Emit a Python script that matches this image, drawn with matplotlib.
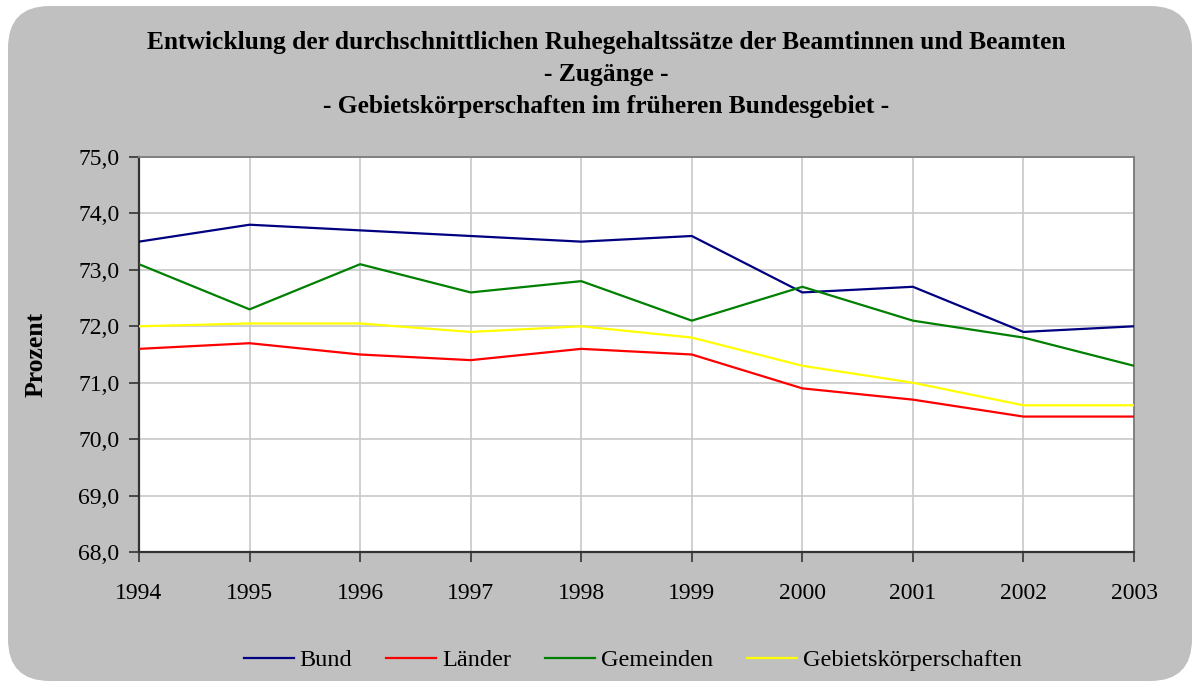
import matplotlib
matplotlib.use("Agg")
import matplotlib.pyplot as plt
from matplotlib.patches import FancyBboxPatch
from matplotlib.ticker import FuncFormatter, MultipleLocator

years = [1994, 1995, 1996, 1997, 1998, 1999, 2000, 2001, 2002, 2003]
bund = [73.5, 73.8, 73.7, 73.6, 73.5, 73.6, 72.6, 72.7, 71.9, 72.0]
laender = [71.6, 71.7, 71.5, 71.4, 71.6, 71.5, 70.9, 70.7, 70.4, 70.4]
gemeinden = [73.1, 72.3, 73.1, 72.6, 72.8, 72.1, 72.7, 72.1, 71.8, 71.3]
gebiet = [72.0, 72.05, 72.05, 71.9, 72.0, 71.8, 71.3, 71.0, 70.6, 70.6]
series_names = ["Bund", "Länder", "Gemeinden", "Gebietskörperschaften"]
series_colors = ["#000080", "#FF0000", "#008000", "#FFFF00"]
title_lines = ["Entwicklung der durchschnittlichen Ruhegehaltssätze der Beamtinnen und Beamten",
               "- Zugänge -",
               "- Gebietskörperschaften im früheren Bundesgebiet -"]

plt.rcParams['font.family'] = ['Liberation Serif', 'DejaVu Serif']

W, H = 1196, 681
fig = plt.figure(figsize=(W / 100, H / 100), dpi=100)
fig.patch.set_facecolor("white")

box = FancyBboxPatch((8 / W, 0 / H), (1184) / W, (675) / H,
                     boxstyle="round,pad=0,rounding_size=0.035",
                     transform=fig.transFigure, facecolor="#C0C0C0",
                     edgecolor="none", zorder=-10,
                     mutation_aspect=W / H)
fig.patches.append(box)

ax = fig.add_axes([139 / W, 1 - 552 / H, (1134 - 139) / W, (552 - 157) / H])
ax.set_facecolor("white")
ax.set_zorder(1)

for vals, name, col in zip([bund, laender, gemeinden, gebiet], series_names, series_colors):
    ax.plot(years, vals, color=col, lw=1.6, label=name, zorder=3)

ax.set_xlim(1994, 2003)
ax.set_ylim(68, 75)
ax.xaxis.set_major_locator(MultipleLocator(1))
ax.yaxis.set_major_locator(MultipleLocator(1))
ax.yaxis.set_major_formatter(FuncFormatter(lambda v, p: f"{v:.1f}".replace(".", ",")))
ax.xaxis.set_major_formatter(FuncFormatter(lambda v, p: f"{int(round(v))}"))
ax.grid(True, color="#C8C8C8", lw=1.2, zorder=1)
ax.tick_params(axis="both", direction="out", length=7, width=1.2, color="#333333",
               labelsize=17)
ax.tick_params(axis="y", pad=7)
ax.tick_params(axis="x", pad=15)
for s in ["left", "bottom"]:
    ax.spines[s].set_color("#333333")
    ax.spines[s].set_linewidth(1.6)
for s in ["top", "right"]:
    ax.spines[s].set_color("#808080")
    ax.spines[s].set_linewidth(1.4)

fig.text(36.5 / W, 1 - 354 / H, "Prozent", rotation=90, ha="center", va="center",
         fontsize=18.5, fontweight="bold")

ys = [43, 75, 107]
for t, y in zip(title_lines, ys):
    fig.text(606 / W, 1 - y / H, t, ha="center", va="center", fontsize=18.4,
             fontweight="bold")

fs = 17.5
pxem = fs * 100 / 72
leg = fig.legend(loc="center", bbox_to_anchor=(633 / W, 1 - 660 / H), ncol=4,
                 frameon=False, fontsize=fs, handlelength=50 / pxem,
                 handletextpad=6 / pxem, columnspacing=34 / pxem)

fig.savefig("out.png", dpi=100, facecolor="white")
